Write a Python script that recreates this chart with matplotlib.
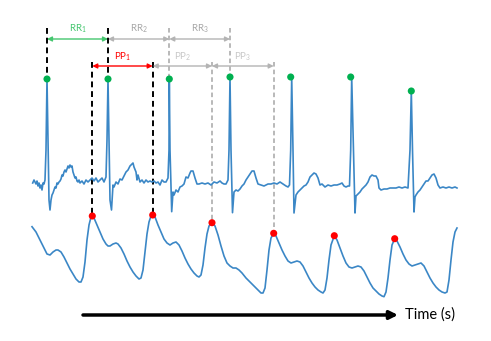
import matplotlib.pyplot as plt

plt.rcParams['font.family'] = ['Lato', 'DejaVu Sans']
plt.rcParams['mathtext.default'] = 'regular'

# R peaks (ECG) and P peaks (PPG) (pixel units)
r_x = [47, 108, 169.3, 230, 290.7, 350.7, 411.3]
r_y = [79, 79, 79, 77, 77, 77, 91]
p_x = [92.3, 152.7, 212, 273.7, 334.3, 394.7]
p_y = [216, 215, 222.7, 233.3, 235.7, 238.7]

ecg_x = [32.7, 34, 36, 37, 38, 39, 40, 41, 42, 43, 44, 45, 46, 47, 48, 49, 50, 51, 52, 53, 54,
         55, 56, 57, 58, 59, 60, 61, 62, 63, 64, 65, 66, 67, 68, 69, 70, 71, 72, 73, 74, 75, 76,
         77, 78, 79, 80, 82, 84, 86, 88, 90, 92, 94, 96, 98, 100, 102, 104, 106, 107, 108, 109,
         110, 111.5, 113, 114, 116, 118, 120, 122, 124, 126, 128, 130, 132, 133, 134, 136, 137,
         138, 140, 142, 144, 146, 148, 150, 152, 154, 156, 158, 160, 162, 164, 166, 168, 169,
         169.3, 170, 171.7, 173, 174, 176, 178, 180, 182, 184, 186, 188, 190, 191, 193, 195, 197,
         199, 202, 205, 208, 211, 214, 217, 220, 222, 224, 226, 228, 229, 230, 231, 232.5, 234,
         236, 238, 240, 242, 244, 246, 248, 250, 252, 254, 256, 258, 261, 264, 268, 271, 274,
         277, 280, 283, 286, 288, 289.5, 290.7, 291.7, 293, 294, 296, 298, 300, 302, 304, 306,
         308, 310, 312, 314, 316, 318, 320, 322, 325, 328, 331, 334, 337, 340, 342, 344, 346,
         348, 349.5, 350.7, 351.7, 353.5, 355, 356, 358, 360, 362, 364, 366, 368, 370, 372, 374,
         376, 378, 379, 381, 384, 387, 390, 393, 396, 399, 402, 405, 408, 410, 411.3, 412.5,
         414, 415, 416, 418, 420, 422, 424, 426, 428, 430, 432, 434, 436, 438, 440, 443, 446,
         449, 452, 455, 457]
ecg_y = [183, 180, 184, 181, 186, 183, 188, 185, 190, 183, 184, 180, 150, 79, 140, 200, 210,
         200, 195, 193, 190, 187, 188, 183, 184, 182, 181, 179, 175, 176, 172, 170, 172, 169,
         166, 168, 165, 167, 166, 172, 175, 178, 177, 181, 182, 180, 183, 181, 184, 180, 182,
         180, 178, 181, 178, 182, 180, 178, 182, 177, 140, 79, 140, 200, 210, 185, 187, 182,
         184, 179, 180, 176, 172, 170, 166, 164, 163, 167, 172, 180, 175, 182, 180, 183, 180,
         182, 181, 182, 181, 183, 182, 185, 180, 182, 182, 178, 150, 79, 150, 211.7, 192, 195,
         190, 192, 187, 186, 184, 177, 178, 173, 171, 171, 178, 184, 184, 183, 184, 183, 185,
         182, 183, 181, 183, 184, 184, 180, 150, 77, 150, 212.7, 192, 190, 191, 189, 186, 184,
         180, 177, 174, 171, 171, 178, 184, 185, 186, 184, 184, 183, 184, 182, 184, 186, 187,
         185, 150, 77, 150, 213, 195, 192, 190, 188, 186, 185, 182, 177, 175, 173, 174, 178,
         185, 184, 187, 185, 186, 185, 185, 184, 183, 186, 187, 186, 186, 150, 77, 150, 213,
         196, 194, 192, 189, 187, 185, 182, 177, 175, 176, 176, 180, 188, 190, 189, 189, 188,
         188, 188, 187, 188, 187, 188, 150, 91, 150, 212, 197, 195, 192, 190, 187, 184, 181,
         181, 178, 175, 174, 178, 185, 188, 187, 188, 187, 188, 187, 188]

ppg_x = [32, 36, 40, 44, 47, 50, 53, 56, 58, 61, 64, 67, 70, 73, 76, 79, 81, 83, 85, 87, 89, 91,
         92.3, 94, 97, 100, 103, 106, 108, 110, 113, 116, 118, 121, 124, 127, 130, 133, 136,
         139, 141, 143, 145, 147, 149, 151, 152.7, 155, 158, 161, 164, 167, 170, 173, 176, 179,
         182, 185, 188, 191, 194, 197, 199, 201, 203, 205, 207, 209, 212, 215, 218, 221, 224,
         227, 230, 233, 236, 239, 242, 246, 250, 254, 258, 261, 263, 265, 267, 269, 271, 273.7,
         276, 279, 282, 285, 288, 291, 294, 297, 300, 303, 306, 309, 312, 315, 318, 321, 323,
         325, 327, 329, 331, 334.3, 337, 340, 343, 346, 349, 352, 355, 358, 361, 364, 367, 370,
         373, 376, 379, 382, 384, 386, 388, 390, 392, 394.7, 397, 400, 403, 406, 409, 412, 415,
         418, 421, 424, 427, 430, 433, 436, 439, 442, 445, 447, 449, 451, 453, 455, 457]
ppg_y = [226.7, 232, 240, 248, 254, 255, 252, 250, 250, 252, 257, 263, 269, 274, 279, 282, 282,
         277, 262, 240, 225, 217, 216, 218, 225, 232, 239, 244, 246, 246, 244, 243, 244, 248,
         254, 261, 267, 272, 276, 279, 278, 270, 252, 234, 222, 216, 215, 217, 225, 232, 239,
         243, 245, 243, 242, 245, 251, 258, 264, 269, 273, 276, 277, 275, 265, 248, 234, 226,
         222.7, 226, 235, 246, 256, 263, 266, 268, 268, 270, 273, 278, 282, 286, 290, 293, 293,
         288, 270, 250, 238, 233.3, 236, 243, 250, 256, 261, 263, 262, 261, 262, 266, 272, 278,
         283, 287, 290, 292, 293, 290, 278, 260, 245, 235.7, 240, 248, 256, 263, 267, 268, 267,
         266, 267, 271, 277, 283, 288, 291, 294, 296, 296.7, 292, 278, 260, 245, 238.7, 241,
         247, 254, 260, 264, 266, 265, 264, 263, 266, 272, 278, 283, 287, 290, 292, 293, 292,
         280, 260, 242, 232, 228]

blue = '#3b87c6'
green = '#00b050'
green_arrow = '#45c66f'
gray = '#b4b4b4'

fig = plt.figure(figsize=(4.91, 3.41), dpi=100)
ax = fig.add_axes([0, 0, 1, 1])
ax.set_xlim(0, 491)
ax.set_ylim(341, 0)
ax.axis('off')

# dashed guide lines
for i in range(4):
    c = 'black' if i < 2 else '#a6a6a6'
    ax.plot([r_x[i], r_x[i]], [28, r_y[i]], ls=(0, (3, 2)), color=c, lw=1.4 if i < 2 else 1.1)
    ax.plot([p_x[i], p_x[i]], [62, p_y[i]], ls=(0, (3, 2)), color=c, lw=1.4 if i < 2 else 1.1)

ax.plot(ecg_x, ecg_y, color=blue, lw=1.2, zorder=3)
ax.plot(ppg_x, ppg_y, color=blue, lw=1.2, zorder=3)
ax.scatter(r_x, r_y, s=26, color=green, zorder=4, edgecolors='none')
ax.scatter(p_x, p_y, s=26, color='red', zorder=4, edgecolors='none')

# interval arrows
rr_colors = [green_arrow, gray, gray]
rr_text = [green_arrow, '#a6a6a6', '#a6a6a6']
pp_colors = ['red', gray, gray]
pp_text = ['red', '#c8c8c8', '#c8c8c8']
for i in range(3):
    ax.annotate('', xy=(r_x[i + 1], 39), xytext=(r_x[i], 39),
                arrowprops=dict(arrowstyle='<|-|>', color=rr_colors[i], lw=1,
                                mutation_scale=7, shrinkA=0, shrinkB=0))
    ax.text((r_x[i] + r_x[i + 1]) / 2, 29, 'RR$_%d$' % (i + 1), color=rr_text[i],
            fontsize=7, ha='center', va='center')
    ax.annotate('', xy=(p_x[i + 1], 66), xytext=(p_x[i], 66),
                arrowprops=dict(arrowstyle='<|-|>', color=pp_colors[i], lw=1,
                                mutation_scale=7, shrinkA=0, shrinkB=0))
    ax.text((p_x[i] + p_x[i + 1]) / 2, 57, 'PP$_%d$' % (i + 1), color=pp_text[i],
            fontsize=7, ha='center', va='center')

# time axis arrow
ax.annotate('', xy=(398, 315), xytext=(83, 315),
            arrowprops=dict(arrowstyle='-|>', color='black', lw=2.5,
                            mutation_scale=12, shrinkA=0, shrinkB=0))
ax.text(405, 315, 'Time (s)', fontsize=10.5, ha='left', va='center')

fig.savefig('out.png', dpi=100)
